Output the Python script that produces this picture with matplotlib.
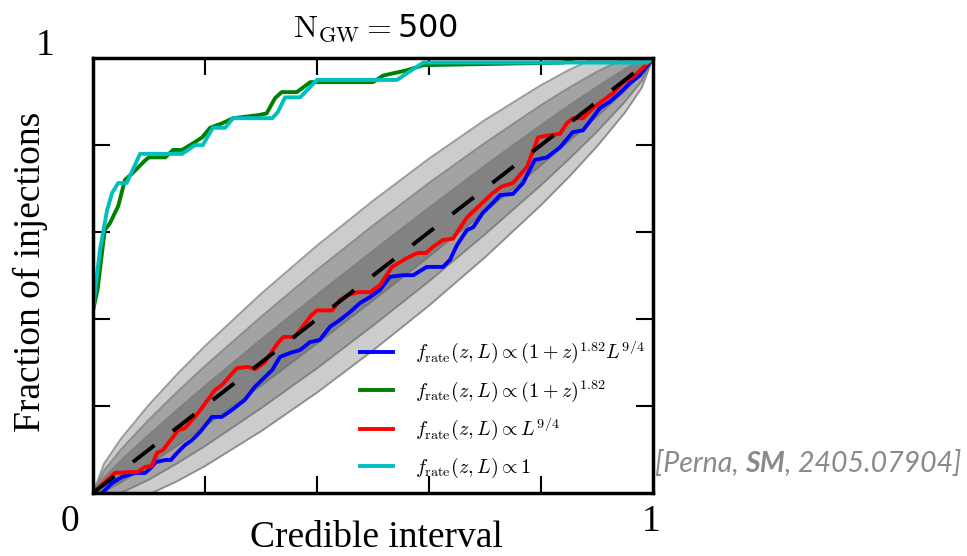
import numpy as np
import matplotlib
matplotlib.use("Agg")
import matplotlib.pyplot as plt

plt.rcParams['mathtext.fontset'] = 'cm'

# PP-plot curves
blue_x = [0.0, 0.018, 0.034, 0.052, 0.075, 0.093, 0.105, 0.112, 0.129, 0.139,
          0.15, 0.164, 0.177, 0.191, 0.204, 0.2125, 0.23, 0.248, 0.271, 0.289,
          0.32, 0.334, 0.352, 0.37, 0.3875, 0.405, 0.423, 0.441, 0.459, 0.477,
          0.495, 0.5125, 0.53, 0.554, 0.572, 0.596, 0.625, 0.6375, 0.65, 0.668,
          0.679, 0.696, 0.714, 0.727, 0.75, 0.768, 0.789, 0.811, 0.834, 0.857,
          0.875, 0.893, 0.905, 0.923, 0.941, 0.959, 0.977, 1.0]
blue_y = [-0.03, 0.002, 0.023, 0.037, 0.046, 0.046, 0.06, 0.071, 0.076, 0.076,
          0.092, 0.11, 0.122, 0.14, 0.161, 0.175, 0.175, 0.191, 0.214, 0.244,
          0.283, 0.313, 0.322, 0.329, 0.347, 0.352, 0.382, 0.398, 0.416, 0.437,
          0.451, 0.467, 0.497, 0.501, 0.501, 0.52, 0.52, 0.536, 0.57, 0.605,
          0.611, 0.644, 0.667, 0.685, 0.688, 0.713, 0.766, 0.772, 0.795, 0.83,
          0.834, 0.864, 0.885, 0.9, 0.92, 0.943, 0.961, 1.0]

green_x = [0.0, 0.008, 0.021, 0.03, 0.045, 0.057, 0.07, 0.093, 0.1, 0.129,
           0.143, 0.159, 0.182, 0.195, 0.209, 0.23, 0.25, 0.295, 0.31, 0.325,
           0.337, 0.364, 0.388, 0.50, 0.518, 0.535, 0.56, 0.59, 0.84, 0.86, 1.0]
green_y = [0.42, 0.467, 0.605, 0.62, 0.66, 0.72, 0.735, 0.765, 0.772, 0.772,
           0.789, 0.789, 0.807, 0.818, 0.84, 0.85, 0.862, 0.869, 0.873, 0.908,
           0.922, 0.922, 0.945, 0.945, 0.96, 0.965, 0.972, 0.984, 0.99, 1.0, 1.0]

red_x = [0.0, 0.039, 0.0625, 0.08, 0.093, 0.105, 0.114, 0.125, 0.143, 0.152,
         0.164, 0.1875, 0.218, 0.23, 0.257, 0.277, 0.29, 0.307, 0.33, 0.34,
         0.36, 0.37, 0.39, 0.40, 0.427, 0.441, 0.455, 0.473, 0.495, 0.5125,
         0.534, 0.56, 0.579, 0.595, 0.607, 0.625, 0.643, 0.655, 0.668, 0.691,
         0.714, 0.73, 0.75, 0.775, 0.795, 0.816, 0.834, 0.846, 0.857, 0.875,
         0.893, 0.911, 0.929, 0.946, 0.964, 1.0]
red_y = [0.0, 0.046, 0.048, 0.048, 0.06, 0.062, 0.092, 0.099, 0.129, 0.145,
         0.149, 0.184, 0.237, 0.248, 0.287, 0.29, 0.285, 0.301, 0.345, 0.359,
         0.359, 0.375, 0.409, 0.42, 0.42, 0.444, 0.455, 0.462, 0.462, 0.478,
         0.52, 0.54, 0.552, 0.552, 0.566, 0.582, 0.585, 0.609, 0.634, 0.662,
         0.69, 0.705, 0.713, 0.75, 0.818, 0.823, 0.826, 0.85, 0.862, 0.862,
         0.885, 0.903, 0.92, 0.943, 0.956, 1.0]

cyan_x = [0.0, 0.005, 0.0125, 0.025, 0.034, 0.045, 0.06, 0.084, 0.159, 0.182,
          0.196, 0.214, 0.236, 0.25, 0.32, 0.33, 0.343, 0.37, 0.40, 0.543,
          0.56, 0.59, 0.99, 1.0]
cyan_y = [0.42, 0.48, 0.56, 0.65, 0.69, 0.713, 0.713, 0.78, 0.78, 0.80,
          0.80, 0.84, 0.84, 0.862, 0.862, 0.876, 0.91, 0.91, 0.95, 0.95,
          0.965, 0.99, 0.99, 1.0]

# grey confidence bands around the diagonal (half widths, 1/2/3 sigma)
band_x = [0.0, 0.02, 0.05, 0.1, 0.15, 0.2, 0.3, 0.4, 0.5, 0.6, 0.7, 0.8, 0.85, 0.9, 0.95, 0.98, 1.0]
band_hw1 = [0.0, 0.016, 0.025, 0.034, 0.041, 0.046, 0.053, 0.056, 0.057, 0.056, 0.053, 0.046, 0.041, 0.034, 0.025, 0.016, 0.0]
band_hw2 = [0.0, 0.032, 0.05, 0.069, 0.082, 0.092, 0.105, 0.113, 0.115, 0.113, 0.105, 0.092, 0.082, 0.069, 0.05, 0.032, 0.0]
band_hw3 = [0.0, 0.048, 0.075, 0.103, 0.123, 0.138, 0.158, 0.169, 0.172, 0.169, 0.158, 0.138, 0.123, 0.103, 0.075, 0.048, 0.0]

labels = [r'$f_{\rm rate}(z, L) \propto (1+z)^{1.82} L^{9/4}$',
          r'$f_{\rm rate}(z, L) \propto (1+z)^{1.82}$',
          r'$f_{\rm rate}(z, L) \propto L^{9/4}$',
          r'$f_{\rm rate}(z, L) \propto 1$']

fig = plt.figure(figsize=(9.67, 5.56), dpi=100)
ax = fig.add_axes([0.0962, 0.1133, 0.579, 0.782])

bx = np.array(band_x)
for hw in [band_hw3, band_hw2, band_hw1]:
    hw = np.array(hw)
    ax.fill_between(bx, bx - hw, bx + hw, color='k', alpha=0.2, lw=0)
    ax.plot(bx, bx + hw, color='0.45', lw=1.4, alpha=0.7)
    ax.plot(bx, bx - hw, color='0.45', lw=1.4, alpha=0.7)

lw = 2.8
ax.plot(blue_x, blue_y, color='b', lw=lw, label=labels[0])
ax.plot(green_x, green_y, color='g', lw=lw, label=labels[1])
ax.plot(red_x, red_y, color='r', lw=lw, label=labels[2])
ax.plot(cyan_x, cyan_y, color='c', lw=lw, label=labels[3])
ax.plot([0, 1], [0, 1], color='k', lw=lw, linestyle=(0, (7, 6)))

ax.set_xlim(0, 1)
ax.set_ylim(0, 1)
ax.set_xticks([0.2, 0.4, 0.6, 0.8])
ax.set_yticks([0.2, 0.4, 0.6, 0.8])
ax.tick_params(direction='in', length=12, width=1.5, top=True, right=True,
               labelbottom=False, labelleft=False)
for s in ax.spines.values():
    s.set_linewidth(2.5)

leg = ax.legend(loc='lower right', bbox_to_anchor=(0.985, 0.03), frameon=False,
                fontsize=14.5, handlelength=1.6, handletextpad=1.1,
                labelspacing=0.62, borderpad=0, borderaxespad=0)

serif = 'Liberation Serif'
fig.text(30 / 967, 1 - 272 / 556, 'Fraction of injections', family=serif,
         fontsize=27, rotation=90, ha='center', va='center')
fig.text(376 / 967, 1 - 538 / 556, 'Credible interval', family=serif,
         fontsize=27, ha='center', va='center')
fig.text(70 / 967, 1 - 522 / 556, '0', family=serif, fontsize=27, ha='center', va='center')
fig.text(651 / 967, 1 - 522 / 556, '1', family=serif, fontsize=27, ha='center', va='center')
fig.text(45 / 967, 1 - 46 / 556, '1', family=serif, fontsize=27, ha='center', va='center')

fig.text(376 / 967, 1 - 28 / 556, r'$\mathrm{N_{GW}} = $500', fontsize=23,
         ha='center', va='center')

# citation
gray = '#8a8a8a'
t1 = fig.text(655 / 967, 1 - 463 / 556, '[Perna, ', family='Lato', style='italic',
              color=gray, fontsize=20.5, va='center')
t2 = ax.annotate('SM', xy=(1, 0), xycoords=t1, va='bottom', family='Lato',
                 style='italic', weight='bold', color=gray, fontsize=20.5)
t3 = ax.annotate(', 2405.07904]', xy=(1, 0), xycoords=t2, va='bottom', family='Lato',
                 style='italic', color=gray, fontsize=20.5)

fig.savefig('out.png', dpi=100)
